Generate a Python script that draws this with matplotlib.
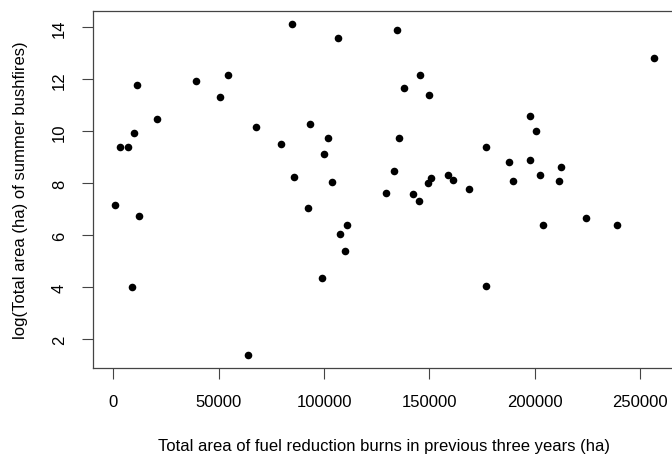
import numpy as np
import matplotlib
matplotlib.use("Agg")
import matplotlib.pyplot as plt

# burn area in previous three years (ha) vs log summer bushfire area
burn_area = [
    84970, 106450, 11190, 39150, 54310, 50700, 20670, 9950, 3130, 6780,
    67770, 79610, 93500, 101700, 99800, 85780, 103600, 129500, 760, 11990,
    92400, 111030, 107400, 109900, 98860, 8670, 64120,
    134730, 145630, 137900, 149900, 256380, 197760, 200460, 135350, 176580,
    187810, 197760, 212600, 133310, 158760, 161130, 150840, 149090, 189560,
    202500, 211650, 168520, 142170, 145010, 224300, 204060, 239130, 176580,
]
log_fire_area = [
    14.12, 13.58, 11.79, 11.93, 12.18, 11.31, 10.46, 9.92, 9.38, 9.38,
    10.17, 9.50, 10.29, 9.75, 9.12, 8.25, 8.05, 7.63, 7.17, 6.75,
    7.05, 6.41, 6.05, 5.41, 4.37, 4.02, 1.40,
    13.88, 12.18, 11.67, 11.41, 12.81, 10.60, 10.00, 9.74, 9.40,
    8.83, 8.88, 8.64, 8.48, 8.33, 8.12, 8.19, 8.01, 8.10,
    8.33, 8.08, 7.77, 7.58, 7.33, 6.67, 6.40, 6.40, 4.05,
]
x_ticks = [0, 50000, 100000, 150000, 200000, 250000]
y_ticks = [2, 4, 6, 8, 10, 12, 14]

plt.rcParams['font.family'] = ['Liberation Sans', 'DejaVu Sans']
plt.rcParams['font.size'] = 12

W, H = 672, 456
fig = plt.figure(figsize=(W / 100, H / 100), dpi=100)
# plot box in pixels (right edge runs just past the image, as in the original)
left, right, top, bottom = 93.3, 675.3, 12.0, 369.0
ax = fig.add_axes([left / W, (H - bottom) / H, (right - left) / W, (bottom - top) / H])

x = np.array(burn_area)
y = np.array(log_fire_area)
ax.scatter(x, y, s=30, color='black', linewidths=0, zorder=3)

# R style 4% padding
xr = x.max() - x.min()
yr = y.max() - y.min()
ax.set_xlim(x.min() - 0.04 * xr, x.max() + 0.04 * xr)
ax.set_ylim(y.min() - 0.04 * yr, y.max() + 0.04 * yr)

ax.set_xticks(x_ticks)
ax.set_xticklabels([str(t) for t in x_ticks])
ax.set_yticks(y_ticks)
ax.set_yticklabels([str(t) for t in y_ticks], rotation=90, va='center')
ax.tick_params(direction='out', length=8, width=0.8, color='#444444', pad=11)

for sp in ax.spines.values():
    sp.set_color('#444444')
    sp.set_linewidth(0.9)

ax.set_xlabel('Total area of fuel reduction burns in previous three years (ha)')
ax.set_ylabel('log(Total area (ha) of summer bushfires)')
ax.xaxis.set_label_coords(0.5, (bottom - 447) / (bottom - top))
ax.xaxis.label.set_va('center')
ax.yaxis.set_label_coords((20 - left) / (right - left), 0.5)
ax.yaxis.label.set_va('center')

fig.savefig('out.png', dpi=100)
